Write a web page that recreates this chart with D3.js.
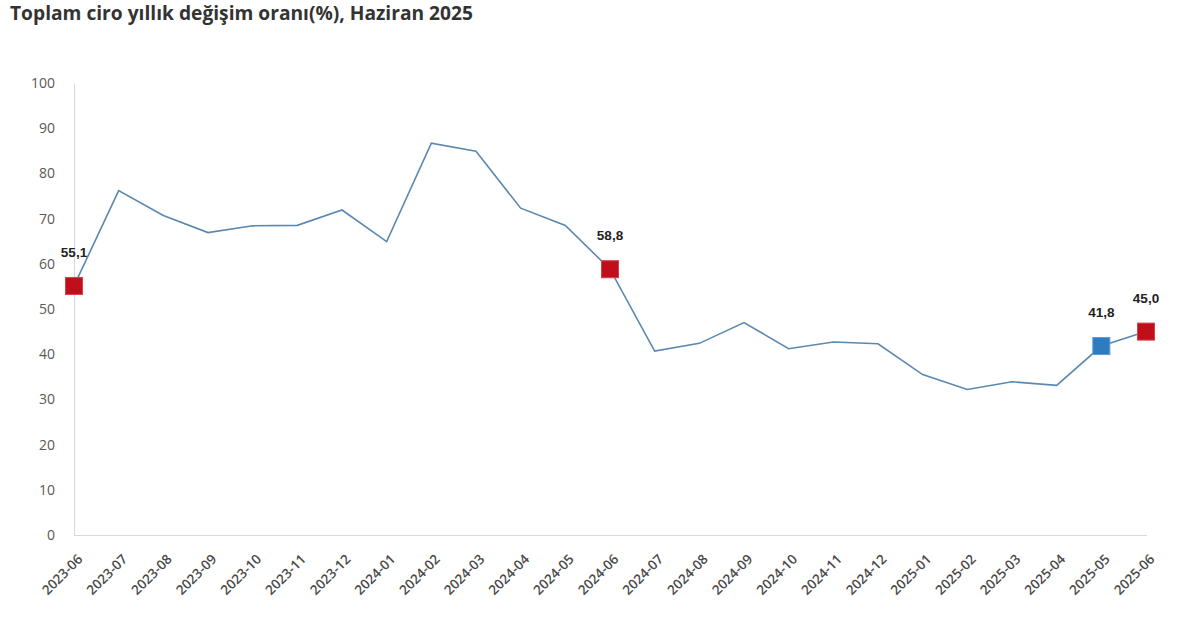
<!DOCTYPE html>
<html><head><meta charset="utf-8">
<script src="https://cdn.jsdelivr.net/npm/d3@7"></script>
<style>body{margin:0;background:#fff;} svg{display:block;}</style>
</head><body>
<svg id="chart" width="1200" height="628"></svg>
<script>
const title = "Toplam ciro yıllık değişim oranı(%), Haziran 2025";
const months = ["2023-06","2023-07","2023-08","2023-09","2023-10","2023-11","2023-12","2024-01","2024-02","2024-03","2024-04","2024-05","2024-06","2024-07","2024-08","2024-09","2024-10","2024-11","2024-12","2025-01","2025-02","2025-03","2025-04","2025-05","2025-06"];
const values = [55.1,76.2,70.7,66.9,68.4,68.5,71.9,64.9,86.7,84.9,72.3,68.5,58.8,40.7,42.4,47.0,41.2,42.7,42.3,35.5,32.2,33.9,33.1,41.8,45.0];
const yTicks = [0,10,20,30,40,50,60,70,80,90,100];
const highlighted = [
  {month:"2023-06", value:55.1, label:"55,1", kind:"red"},
  {month:"2024-06", value:58.8, label:"58,8", kind:"red"},
  {month:"2025-05", value:41.8, label:"41,8", kind:"blue"},
  {month:"2025-06", value:45.0, label:"45,0", kind:"red"}
];
const colors = {line:"#5a88b0", red:"#c00f1a", redStroke:"#d8404a", blue:"#2e7bbf", blueStroke:"#5a9ad2"};

const svg = d3.select("#chart");
const m = {left:74, right:1146, top:83, bottom:535};
const x = d3.scalePoint().domain(months).range([m.left, m.right]);
const y = d3.scaleLinear().domain([0,100]).range([m.bottom, m.top]);

svg.append("text").attr("x",10).attr("y",20)
  .attr("font-family","'Open Sans', 'Noto Sans', sans-serif").attr("font-weight","700")
  .attr("font-size",19.2).attr("fill","#333").text(title);

// axes
const yAxis = svg.append("g").attr("transform",`translate(${m.left},0)`)
  .call(d3.axisLeft(y).tickValues(yTicks).tickSize(0).tickPadding(19));
yAxis.select(".domain").attr("stroke","#d9d9d9");
yAxis.selectAll("text").attr("font-family","'Open Sans', 'Noto Sans', sans-serif")
  .attr("font-size",14).attr("fill","#595959");

const xAxis = svg.append("g").attr("transform",`translate(0,${m.bottom})`)
  .call(d3.axisBottom(x).tickSize(0).tickPadding(0));
xAxis.select(".domain").attr("stroke","#d9d9d9").attr("d",`M${m.left},0.5H${m.right+1}`);
xAxis.selectAll("text")
  .attr("font-family","'Open Sans', 'Noto Sans', sans-serif")
  .attr("font-size",13.5).attr("font-weight",600).attr("fill","#4a4a4a")
  .attr("text-anchor","end").attr("dy",0)
  .attr("transform","translate(9,25) rotate(-45)");

// line
const line = d3.line().x((d,i)=>x(months[i])).y(d=>y(d));
svg.append("path").datum(values).attr("d",line)
  .attr("fill","none").attr("stroke",colors.line).attr("stroke-width",1.6);

// markers
const s = 17;
svg.selectAll("rect.mk").data(highlighted).enter().append("rect").attr("class","mk")
  .attr("x",d=>x(d.month)-s/2).attr("y",d=>y(d.value)-s/2)
  .attr("width",s).attr("height",s)
  .attr("fill",d=>d.kind==="red"?colors.red:colors.blue)
  .attr("stroke",d=>d.kind==="red"?colors.redStroke:colors.blueStroke).attr("stroke-width",1);

svg.selectAll("text.lbl").data(highlighted).enter().append("text").attr("class","lbl")
  .attr("x",d=>x(d.month)).attr("y",d=>y(d.value)-29)
  .attr("text-anchor","middle")
  .attr("font-family","'Liberation Sans', Arial, sans-serif").attr("font-weight","700")
  .attr("font-size",13.5).attr("fill","#222").text(d=>d.label);
</script>
</body></html>
